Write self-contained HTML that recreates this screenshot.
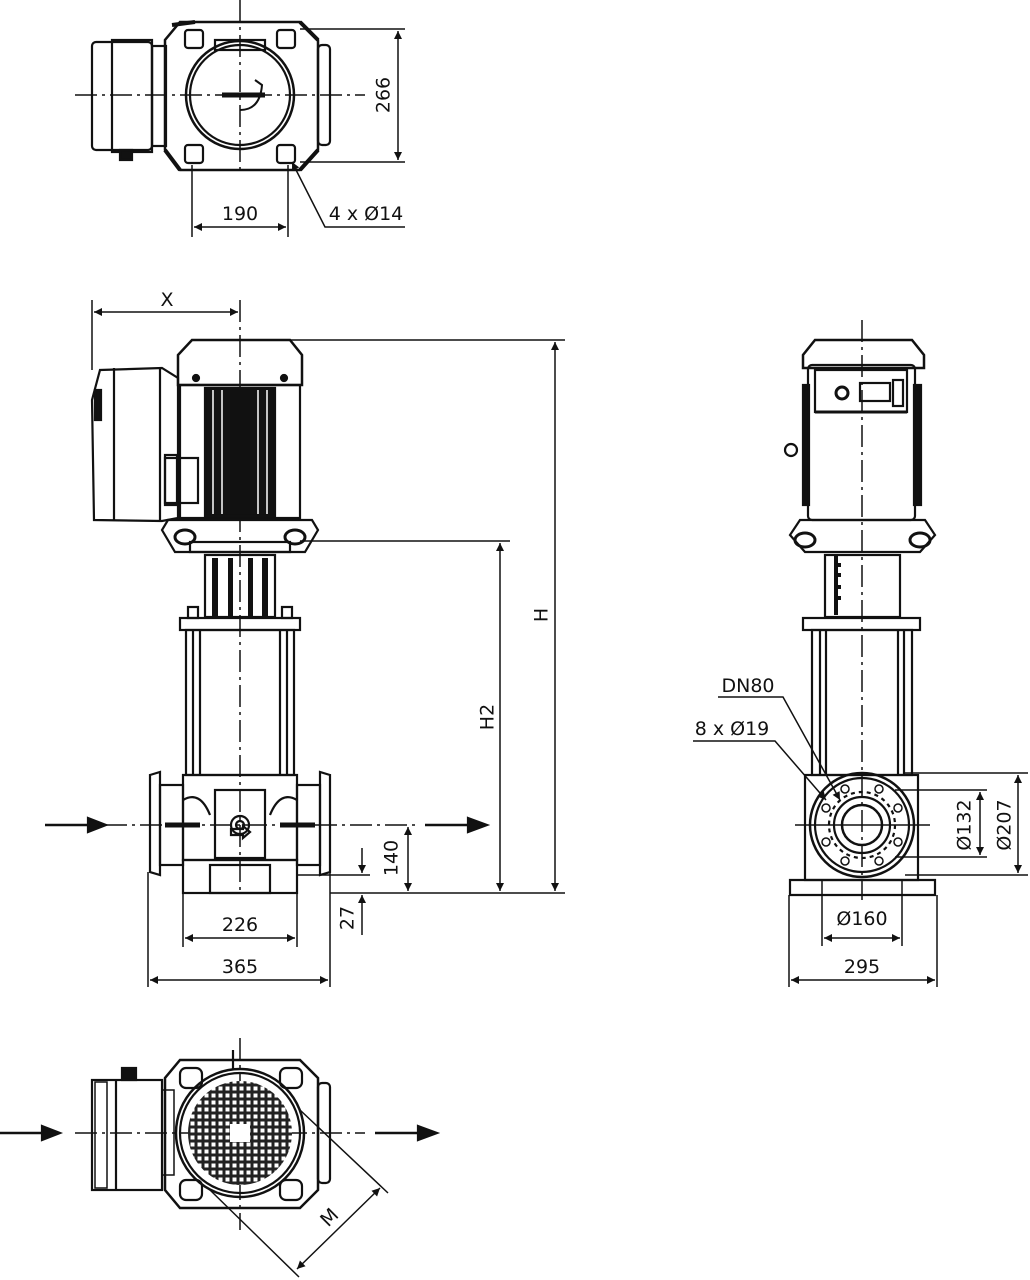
<!DOCTYPE html>
<html><head><meta charset="utf-8"><style>
html,body{margin:0;padding:0;background:#fff}
svg{display:block}
text{font-family:"DejaVu Sans","Liberation Sans",sans-serif;font-size:19px;fill:#111}
</style></head><body>
<svg width="1030" height="1280" viewBox="0 0 1030 1280" xmlns="http://www.w3.org/2000/svg">
<defs>
<marker id="a" viewBox="0 0 10 10" refX="10" refY="5" markerWidth="14" markerHeight="8" markerUnits="userSpaceOnUse" orient="auto-start-reverse"><path d="M0,0 L10,5 L0,10 z" fill="#111"/></marker>
<pattern id="grid" width="7" height="7" patternUnits="userSpaceOnUse"><rect width="7" height="7" fill="#222"/><rect x="1.5" y="1.5" width="4" height="4" fill="#fff"/></pattern>
</defs>
<g fill="none" stroke="#111" stroke-width="2.2">

<!-- ===== TOP VIEW ===== -->
<line x1="240" y1="0" x2="240" y2="170" stroke-width="1.5" stroke-dasharray="22,5,3,5"/>
<line x1="75" y1="95" x2="365" y2="95" stroke-width="1.5" stroke-dasharray="22,5,3,5"/>
<path d="M180,22 L300,22 L318,40 L318,150 L300,170 L180,170 L165,150 L165,40 Z" stroke-width="2.5"/>
<rect x="185" y="30" width="18" height="18" rx="3"/><rect x="277" y="30" width="18" height="18" rx="3"/>
<rect x="185" y="145" width="18" height="18" rx="3"/><rect x="277" y="145" width="18" height="18" rx="3"/>
<path d="M172,25 L195,22 M300,22 L318,40 M165,150 L180,170 M300,170 L318,150" stroke-width="4"/>
<circle cx="240" cy="95" r="54" stroke-width="2.5"/><circle cx="240" cy="95" r="50"/>
<rect x="215" y="40" width="50" height="10"/>
<path d="M222,95 L265,95" stroke-width="5"/>
<path d="M240,110 Q260,110 262,85 L255,80" stroke-width="2"/>
<rect x="92" y="42" width="60" height="108" rx="4"/><rect x="112" y="40" width="40" height="112"/>
<rect x="152" y="46" width="14" height="100"/>
<rect x="120" y="150" width="12" height="10" fill="#111"/>
<rect x="318" y="45" width="12" height="100" rx="4"/>
<line x1="300" y1="29" x2="405" y2="29" stroke-width="1.5"/><line x1="300" y1="162" x2="405" y2="162" stroke-width="1.5"/>
<line x1="398" y1="31" x2="398" y2="160" stroke-width="1.5" marker-start="url(#a)" marker-end="url(#a)"/>
<line x1="192" y1="165" x2="192" y2="237" stroke-width="1.5"/><line x1="288" y1="165" x2="288" y2="237" stroke-width="1.5"/>
<line x1="194" y1="227" x2="286" y2="227" stroke-width="1.5" marker-start="url(#a)" marker-end="url(#a)"/>
<polyline points="405,227 325,227 292,162" stroke-width="1.5" marker-end="url(#a)"/>

<!-- ===== FRONT VIEW ===== -->
<line x1="240" y1="300" x2="240" y2="890" stroke-width="1.5" stroke-dasharray="22,5,3,5"/>
<line x1="105" y1="825" x2="420" y2="825" stroke-width="1.5" stroke-dasharray="22,5,3,5"/>
<path d="M178,385 L178,355 L192,340 L290,340 L302,355 L302,385 Z" stroke-width="2.5"/>
<circle cx="196" cy="378" r="3" fill="#111"/><circle cx="284" cy="378" r="3" fill="#111"/>
<rect x="180" y="385" width="120" height="133"/>
<rect x="205" y="388" width="70" height="128" fill="#111"/>
<g stroke="#fff" stroke-width="1.5"><line x1="213" y1="390" x2="213" y2="514"/><line x1="222" y1="390" x2="222" y2="514"/><line x1="258" y1="390" x2="258" y2="514"/><line x1="267" y1="390" x2="267" y2="514"/></g>
<path d="M100,370 L162,368 L178,378 L178,518 L162,521 L94,520 L92,400 Z"/>
<line x1="114" y1="368" x2="114" y2="521"/><line x1="160" y1="368" x2="160" y2="521"/>
<rect x="95" y="390" width="6" height="30" fill="#111"/>
<rect x="165" y="458" width="33" height="45"/><rect x="165" y="455" width="12" height="50"/>
<path d="M168,520 L312,520 L318,530 L305,552 L175,552 L162,530 Z"/>
<ellipse cx="185" cy="537" rx="10" ry="7" stroke-width="3"/><ellipse cx="295" cy="537" rx="10" ry="7" stroke-width="3"/>
<rect x="190" y="542" width="100" height="10"/>
<rect x="205" y="555" width="70" height="62"/>
<g fill="#111" stroke="none"><rect x="212" y="558" width="6" height="58"/><rect x="228" y="558" width="5" height="58"/><rect x="248" y="558" width="5" height="58"/><rect x="262" y="558" width="6" height="58"/></g>
<rect x="180" y="618" width="120" height="12"/>
<rect x="188" y="607" width="10" height="11"/><rect x="282" y="607" width="10" height="11"/>
<rect x="186" y="630" width="108" height="145"/><line x1="193" y1="630" x2="193" y2="775"/><line x1="287" y1="630" x2="287" y2="775"/>
<line x1="200" y1="630" x2="200" y2="775"/><line x1="280" y1="630" x2="280" y2="775"/>
<rect x="183" y="775" width="114" height="85"/>
<rect x="215" y="790" width="50" height="68"/>
<path d="M150,775 L160,772 L160,875 L150,872 Z"/><rect x="160" y="785" width="23" height="80"/>
<path d="M330,775 L320,772 L320,875 L330,872 Z"/><rect x="297" y="785" width="23" height="80"/>
<path d="M183,800 Q200,790 210,815 M297,800 Q280,790 270,815"/>
<path d="M165,825 L200,825 M280,825 L315,825" stroke-width="5"/>
<circle cx="240" cy="825" r="9"/><circle cx="240" cy="825" r="4"/>
<path d="M231,829 L243,829 L243,826 L250,832 L243,838 L243,835 L231,835 Z"/>
<rect x="183" y="860" width="114" height="33"/><rect x="210" y="865" width="60" height="28"/>
<path d="M45,825 L92,825" stroke-width="2.5"/><path d="M88,818 L106,825 L88,832 Z" fill="#111"/>
<path d="M425,825 L470,825" stroke-width="2.5"/><path d="M468,818 L487,825 L468,832 Z" fill="#111"/>
<line x1="92" y1="300" x2="92" y2="370" stroke-width="1.5"/>
<line x1="94" y1="312" x2="238" y2="312" stroke-width="1.5" marker-start="url(#a)" marker-end="url(#a)"/>
<line x1="290" y1="340" x2="565" y2="340" stroke-width="1.5"/>
<line x1="330" y1="893" x2="565" y2="893" stroke-width="1.5"/>
<line x1="555" y1="342" x2="555" y2="891" stroke-width="1.5" marker-start="url(#a)" marker-end="url(#a)"/>
<line x1="300" y1="541" x2="510" y2="541" stroke-width="1.5"/>
<line x1="500" y1="543" x2="500" y2="891" stroke-width="1.5" marker-start="url(#a)" marker-end="url(#a)"/>
<line x1="408" y1="827" x2="408" y2="891" stroke-width="1.5" marker-start="url(#a)" marker-end="url(#a)"/>
<line x1="297" y1="875" x2="370" y2="875" stroke-width="1.5"/>
<line x1="362" y1="848" x2="362" y2="873" stroke-width="1.5" marker-end="url(#a)"/>
<line x1="362" y1="935" x2="362" y2="895" stroke-width="1.5" marker-end="url(#a)"/>
<line x1="183" y1="893" x2="183" y2="947" stroke-width="1.5"/><line x1="297" y1="893" x2="297" y2="947" stroke-width="1.5"/>
<line x1="185" y1="938" x2="295" y2="938" stroke-width="1.5" marker-start="url(#a)" marker-end="url(#a)"/>
<line x1="148" y1="872" x2="148" y2="987" stroke-width="1.5"/><line x1="330" y1="872" x2="330" y2="987" stroke-width="1.5"/>
<line x1="150" y1="980" x2="328" y2="980" stroke-width="1.5" marker-start="url(#a)" marker-end="url(#a)"/>

<!-- ===== SIDE VIEW ===== -->
<line x1="862" y1="320" x2="862" y2="900" stroke-width="1.5" stroke-dasharray="22,5,3,5"/>
<path d="M803,368 L803,355 L815,340 L912,340 L924,355 L924,368 Z" stroke-width="2.5"/>
<rect x="808" y="365" width="107" height="155" rx="4"/>
<rect x="815" y="370" width="92" height="42"/><circle cx="842" cy="393" r="6" stroke-width="3"/>
<rect x="860" y="383" width="30" height="18"/><rect x="893" y="380" width="10" height="26"/>
<line x1="815" y1="412" x2="907" y2="412" stroke-width="3"/>
<rect x="803" y="385" width="6" height="120" fill="#111"/><rect x="914" y="385" width="7" height="120" fill="#111"/>
<circle cx="791" cy="450" r="6"/>
<path d="M800,520 L925,520 L935,535 L920,552 L805,552 L790,535 Z"/>
<ellipse cx="805" cy="540" rx="10" ry="7" stroke-width="3"/><ellipse cx="920" cy="540" rx="10" ry="7" stroke-width="3"/>
<rect x="825" y="555" width="75" height="62"/>
<g fill="#111" stroke="none"><rect x="834" y="555" width="4" height="60"/><rect x="837" y="563" width="4" height="4"/><rect x="837" y="573" width="4" height="4"/><rect x="837" y="585" width="4" height="4"/><rect x="837" y="596" width="4" height="4"/></g>
<rect x="803" y="618" width="117" height="12"/>
<rect x="812" y="630" width="100" height="145"/><line x1="820" y1="630" x2="820" y2="775"/><line x1="904" y1="630" x2="904" y2="775"/>
<line x1="826" y1="630" x2="826" y2="775"/><line x1="898" y1="630" x2="898" y2="775"/>
<rect x="805" y="775" width="113" height="105"/>
<circle cx="862" cy="825" r="52" stroke-width="2.5"/><circle cx="862" cy="825" r="47"/>
<circle cx="862" cy="825" r="33" stroke-dasharray="4,4"/><circle cx="862" cy="825" r="28"/>
<circle cx="862" cy="825" r="20" stroke-width="2.5"/>
<g stroke-width="1.5"><circle cx="845" cy="789" r="4"/><circle cx="879" cy="789" r="4"/><circle cx="898" cy="808" r="4"/><circle cx="898" cy="842" r="4"/><circle cx="879" cy="861" r="4"/><circle cx="845" cy="861" r="4"/><circle cx="826" cy="842" r="4"/><circle cx="826" cy="808" r="4"/></g>
<line x1="795" y1="825" x2="930" y2="825" stroke-width="1.5"/>
<path d="M790,895 L790,880 L935,880 L935,895 Z"/>
<polyline points="718,697 783,697 840,800" stroke-width="1.5" marker-end="url(#a)"/>
<polyline points="693,741 775,741 826,800" stroke-width="1.5" marker-end="url(#a)"/>
<line x1="905" y1="773" x2="1028" y2="773" stroke-width="1.5"/><line x1="905" y1="875" x2="1028" y2="875" stroke-width="1.5"/>
<line x1="1018" y1="775" x2="1018" y2="873" stroke-width="1.5" marker-start="url(#a)" marker-end="url(#a)"/>
<line x1="895" y1="790" x2="987" y2="790" stroke-width="1.5"/><line x1="895" y1="857" x2="987" y2="857" stroke-width="1.5"/>
<line x1="980" y1="792" x2="980" y2="855" stroke-width="1.5" marker-start="url(#a)" marker-end="url(#a)"/>
<line x1="822" y1="880" x2="822" y2="946" stroke-width="1.5"/><line x1="902" y1="880" x2="902" y2="946" stroke-width="1.5"/>
<line x1="824" y1="938" x2="900" y2="938" stroke-width="1.5" marker-start="url(#a)" marker-end="url(#a)"/>
<line x1="789" y1="895" x2="789" y2="987" stroke-width="1.5"/><line x1="937" y1="895" x2="937" y2="987" stroke-width="1.5"/>
<line x1="791" y1="980" x2="935" y2="980" stroke-width="1.5" marker-start="url(#a)" marker-end="url(#a)"/>

<!-- ===== BOTTOM VIEW ===== -->
<line x1="240" y1="1038" x2="240" y2="1230" stroke-width="1.5" stroke-dasharray="22,5,3,5"/>
<line x1="75" y1="1133" x2="365" y2="1133" stroke-width="1.5" stroke-dasharray="22,5,3,5"/>
<path d="M180,1060 L300,1060 L318,1078 L318,1190 L300,1208 L180,1208 L165,1190 L165,1078 Z" stroke-width="2.5"/>
<rect x="180" y="1068" width="22" height="20" rx="6"/><rect x="280" y="1068" width="22" height="20" rx="6"/>
<rect x="180" y="1180" width="22" height="20" rx="6"/><rect x="280" y="1180" width="22" height="20" rx="6"/>
<circle cx="240" cy="1133" r="64" stroke-width="2.5"/><circle cx="240" cy="1133" r="60"/>
<circle cx="240" cy="1133" r="52" fill="url(#grid)" stroke="none"/>
<rect x="230" y="1124" width="20" height="18" fill="#fff" stroke="none"/>
<line x1="233" y1="1050" x2="233" y2="1070"/>
<rect x="92" y="1080" width="70" height="110"/><line x1="116" y1="1080" x2="116" y2="1190"/>
<rect x="95" y="1082" width="12" height="106" stroke-width="1.5"/>
<rect x="122" y="1068" width="14" height="12" fill="#111"/>
<rect x="162" y="1090" width="12" height="85" stroke-width="1.5"/>
<rect x="318" y="1083" width="12" height="100" rx="4"/>
<path d="M0,1133 L45,1133" stroke-width="2.5"/><path d="M42,1126 L60,1133 L42,1140 Z" fill="#111"/>
<path d="M375,1133 L420,1133" stroke-width="2.5"/><path d="M418,1126 L437,1133 L418,1140 Z" fill="#111"/>
<line x1="300" y1="1110" x2="388" y2="1193" stroke-width="1.5"/>
<line x1="210" y1="1190" x2="299" y2="1277" stroke-width="1.5"/>
<line x1="380" y1="1188" x2="297" y2="1269" stroke-width="1.5" marker-start="url(#a)" marker-end="url(#a)"/>
</g>

<g>
<text x="384" y="95" text-anchor="middle" transform="rotate(-90 384 95)" dominant-baseline="middle">266</text>
<text x="240" y="220" text-anchor="middle">190</text>
<text x="366" y="220" text-anchor="middle">4 x Ø14</text>
<text x="167" y="306" text-anchor="middle">X</text>
<text x="542" y="615" text-anchor="middle" transform="rotate(-90 542 615)" dominant-baseline="middle">H</text>
<text x="488" y="717" text-anchor="middle" transform="rotate(-90 488 717)" dominant-baseline="middle">H2</text>
<text x="392" y="858" text-anchor="middle" transform="rotate(-90 392 858)" dominant-baseline="middle">140</text>
<text x="348" y="918" text-anchor="middle" transform="rotate(-90 348 918)" dominant-baseline="middle">27</text>
<text x="240" y="931" text-anchor="middle">226</text>
<text x="240" y="973" text-anchor="middle">365</text>
<text x="748" y="692" text-anchor="middle">DN80</text>
<text x="732" y="735" text-anchor="middle">8 x Ø19</text>
<text x="965" y="825" text-anchor="middle" transform="rotate(-90 965 825)" dominant-baseline="middle">Ø132</text>
<text x="1005" y="825" text-anchor="middle" transform="rotate(-90 1005 825)" dominant-baseline="middle">Ø207</text>
<text x="862" y="925" text-anchor="middle">Ø160</text>
<text x="862" y="973" text-anchor="middle">295</text>
<text x="330" y="1218" text-anchor="middle" transform="rotate(-45 330 1218)" dominant-baseline="middle">M</text>
</g>
</svg>
</body></html>
